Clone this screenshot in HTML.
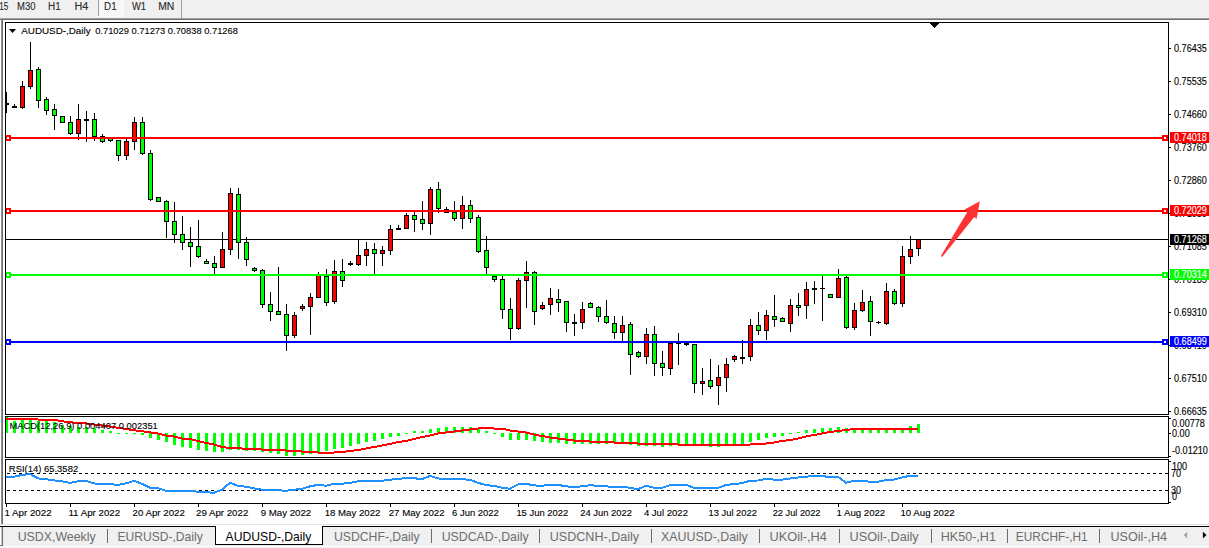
<!DOCTYPE html>
<html><head><meta charset="utf-8"><style>
html,body{margin:0;padding:0;background:#fff;width:1209px;height:548px;overflow:hidden;}
svg{display:block;font-family:"Liberation Sans", sans-serif;}
</style></head><body><svg width="1209" height="548" viewBox="0 0 1209 548"><rect x="0" y="0" width="1209" height="548" fill="#ffffff"/><rect x="0" y="0" width="1209" height="18" fill="#f0f0f0"/><rect x="0" y="18" width="1209" height="1" fill="#a0a0a0"/><rect x="0" y="19" width="1209" height="1" fill="#6e6e6e"/><defs><pattern id="chk" width="2" height="2" patternUnits="userSpaceOnUse"><rect width="2" height="2" fill="#f0f0f0"/><rect width="1" height="1" fill="#ffffff"/><rect x="1" y="1" width="1" height="1" fill="#ffffff"/></pattern></defs><rect x="99" y="0" width="24" height="16" fill="url(#chk)"/><rect x="123" y="0" width="1" height="17" fill="#fafafa"/><rect x="98" y="16" width="26" height="1" fill="#fafafa"/><rect x="98" y="0" width="1" height="16" fill="#a0a0a0"/><rect x="181" y="0" width="1" height="18" fill="#a0a0a0"/><rect x="1" y="19" width="1" height="506" fill="#909090"/><rect x="2" y="19" width="1" height="506" fill="#6e6e6e"/><defs><clipPath id="cm"><rect x="6" y="23" width="1162" height="391"/></clipPath></defs><g shape-rendering="crispEdges" clip-path="url(#cm)"><rect x="6" y="239" width="1162" height="1" fill="#000"/><rect x="6" y="92" width="1" height="21" fill="#000"/><rect x="4" y="103" width="5" height="2" fill="#000"/><rect x="14" y="104" width="1" height="4" fill="#000"/><rect x="12" y="106" width="5" height="2" fill="#000"/><rect x="22" y="81" width="1" height="28" fill="#000"/><rect x="20" y="86" width="5" height="22" fill="#000"/><rect x="21" y="87" width="3" height="20" fill="#ff0000"/><rect x="30" y="42" width="1" height="47" fill="#000"/><rect x="28" y="70" width="5" height="17" fill="#000"/><rect x="29" y="71" width="3" height="15" fill="#ff0000"/><rect x="38" y="67" width="1" height="41" fill="#000"/><rect x="36" y="69" width="5" height="32" fill="#000"/><rect x="37" y="70" width="3" height="30" fill="#00ff00"/><rect x="46" y="97" width="1" height="18" fill="#000"/><rect x="44" y="99" width="5" height="12" fill="#000"/><rect x="45" y="100" width="3" height="10" fill="#00ff00"/><rect x="54" y="104" width="1" height="26" fill="#000"/><rect x="52" y="109" width="5" height="7" fill="#000"/><rect x="53" y="110" width="3" height="5" fill="#00ff00"/><rect x="62" y="116" width="1" height="7" fill="#000"/><rect x="60" y="116" width="5" height="7" fill="#000"/><rect x="61" y="117" width="3" height="5" fill="#00ff00"/><rect x="70" y="116" width="1" height="19" fill="#000"/><rect x="68" y="122" width="5" height="12" fill="#000"/><rect x="69" y="123" width="3" height="10" fill="#00ff00"/><rect x="78" y="104" width="1" height="36" fill="#000"/><rect x="76" y="119" width="5" height="15" fill="#000"/><rect x="77" y="120" width="3" height="13" fill="#ff0000"/><rect x="86" y="111" width="1" height="31" fill="#000"/><rect x="84" y="119" width="5" height="2" fill="#000"/><rect x="94" y="113" width="1" height="28" fill="#000"/><rect x="92" y="119" width="5" height="18" fill="#000"/><rect x="93" y="120" width="3" height="16" fill="#00ff00"/><rect x="102" y="134" width="1" height="9" fill="#000"/><rect x="100" y="136" width="5" height="6" fill="#000"/><rect x="101" y="137" width="3" height="4" fill="#00ff00"/><rect x="110" y="138" width="1" height="4" fill="#000"/><rect x="108" y="138" width="5" height="3" fill="#000"/><rect x="109" y="139" width="3" height="1" fill="#00ff00"/><rect x="118" y="140" width="1" height="21" fill="#000"/><rect x="116" y="140" width="5" height="16" fill="#000"/><rect x="117" y="141" width="3" height="14" fill="#00ff00"/><rect x="126" y="139" width="1" height="21" fill="#000"/><rect x="124" y="141" width="5" height="15" fill="#000"/><rect x="125" y="142" width="3" height="13" fill="#ff0000"/><rect x="134" y="117" width="1" height="33" fill="#000"/><rect x="132" y="122" width="5" height="20" fill="#000"/><rect x="133" y="123" width="3" height="18" fill="#ff0000"/><rect x="142" y="117" width="1" height="38" fill="#000"/><rect x="140" y="122" width="5" height="32" fill="#000"/><rect x="141" y="123" width="3" height="30" fill="#00ff00"/><rect x="150" y="150" width="1" height="51" fill="#000"/><rect x="148" y="153" width="5" height="47" fill="#000"/><rect x="149" y="154" width="3" height="45" fill="#00ff00"/><rect x="158" y="197" width="1" height="5" fill="#000"/><rect x="156" y="197" width="5" height="5" fill="#000"/><rect x="157" y="198" width="3" height="3" fill="#00ff00"/><rect x="166" y="200" width="1" height="38" fill="#000"/><rect x="164" y="201" width="5" height="21" fill="#000"/><rect x="165" y="202" width="3" height="19" fill="#00ff00"/><rect x="174" y="202" width="1" height="41" fill="#000"/><rect x="172" y="221" width="5" height="14" fill="#000"/><rect x="173" y="222" width="3" height="12" fill="#00ff00"/><rect x="182" y="216" width="1" height="34" fill="#000"/><rect x="180" y="234" width="5" height="9" fill="#000"/><rect x="181" y="235" width="3" height="7" fill="#00ff00"/><rect x="190" y="227" width="1" height="40" fill="#000"/><rect x="188" y="242" width="5" height="5" fill="#000"/><rect x="189" y="243" width="3" height="3" fill="#00ff00"/><rect x="198" y="220" width="1" height="38" fill="#000"/><rect x="196" y="246" width="5" height="11" fill="#000"/><rect x="197" y="247" width="3" height="9" fill="#00ff00"/><rect x="206" y="259" width="1" height="5" fill="#000"/><rect x="204" y="261" width="5" height="3" fill="#000"/><rect x="205" y="262" width="3" height="1" fill="#00ff00"/><rect x="214" y="256" width="1" height="18" fill="#000"/><rect x="212" y="263" width="5" height="5" fill="#000"/><rect x="213" y="264" width="3" height="3" fill="#00ff00"/><rect x="222" y="232" width="1" height="36" fill="#000"/><rect x="220" y="249" width="5" height="19" fill="#000"/><rect x="221" y="250" width="3" height="17" fill="#ff0000"/><rect x="230" y="188" width="1" height="67" fill="#000"/><rect x="228" y="193" width="5" height="57" fill="#000"/><rect x="229" y="194" width="3" height="55" fill="#ff0000"/><rect x="238" y="188" width="1" height="71" fill="#000"/><rect x="236" y="194" width="5" height="49" fill="#000"/><rect x="237" y="195" width="3" height="47" fill="#00ff00"/><rect x="246" y="237" width="1" height="29" fill="#000"/><rect x="244" y="242" width="5" height="18" fill="#000"/><rect x="245" y="243" width="3" height="16" fill="#00ff00"/><rect x="254" y="267" width="1" height="5" fill="#000"/><rect x="252" y="268" width="5" height="3" fill="#000"/><rect x="253" y="269" width="3" height="1" fill="#00ff00"/><rect x="262" y="269" width="1" height="39" fill="#000"/><rect x="260" y="270" width="5" height="35" fill="#000"/><rect x="261" y="271" width="3" height="33" fill="#00ff00"/><rect x="270" y="292" width="1" height="29" fill="#000"/><rect x="268" y="304" width="5" height="8" fill="#000"/><rect x="269" y="305" width="3" height="6" fill="#00ff00"/><rect x="278" y="267" width="1" height="48" fill="#000"/><rect x="276" y="311" width="5" height="4" fill="#000"/><rect x="277" y="312" width="3" height="2" fill="#00ff00"/><rect x="286" y="304" width="1" height="47" fill="#000"/><rect x="284" y="314" width="5" height="22" fill="#000"/><rect x="285" y="315" width="3" height="20" fill="#00ff00"/><rect x="294" y="312" width="1" height="26" fill="#000"/><rect x="292" y="315" width="5" height="21" fill="#000"/><rect x="293" y="316" width="3" height="19" fill="#ff0000"/><rect x="302" y="304" width="1" height="7" fill="#000"/><rect x="300" y="306" width="5" height="3" fill="#000"/><rect x="301" y="307" width="3" height="1" fill="#ff0000"/><rect x="310" y="293" width="1" height="42" fill="#000"/><rect x="308" y="297" width="5" height="10" fill="#000"/><rect x="309" y="298" width="3" height="8" fill="#ff0000"/><rect x="318" y="272" width="1" height="26" fill="#000"/><rect x="316" y="275" width="5" height="23" fill="#000"/><rect x="317" y="276" width="3" height="21" fill="#ff0000"/><rect x="326" y="269" width="1" height="37" fill="#000"/><rect x="324" y="276" width="5" height="27" fill="#000"/><rect x="325" y="277" width="3" height="25" fill="#00ff00"/><rect x="334" y="260" width="1" height="44" fill="#000"/><rect x="332" y="271" width="5" height="31" fill="#000"/><rect x="333" y="272" width="3" height="29" fill="#ff0000"/><rect x="342" y="259" width="1" height="28" fill="#000"/><rect x="340" y="271" width="5" height="10" fill="#000"/><rect x="341" y="272" width="3" height="8" fill="#00ff00"/><rect x="350" y="261" width="1" height="5" fill="#000"/><rect x="348" y="263" width="5" height="2" fill="#000"/><rect x="358" y="239" width="1" height="27" fill="#000"/><rect x="356" y="255" width="5" height="10" fill="#000"/><rect x="357" y="256" width="3" height="8" fill="#ff0000"/><rect x="366" y="242" width="1" height="24" fill="#000"/><rect x="364" y="249" width="5" height="7" fill="#000"/><rect x="365" y="250" width="3" height="5" fill="#ff0000"/><rect x="374" y="243" width="1" height="31" fill="#000"/><rect x="372" y="249" width="5" height="5" fill="#000"/><rect x="373" y="250" width="3" height="3" fill="#00ff00"/><rect x="382" y="246" width="1" height="20" fill="#000"/><rect x="380" y="250" width="5" height="4" fill="#000"/><rect x="381" y="251" width="3" height="2" fill="#ff0000"/><rect x="390" y="225" width="1" height="30" fill="#000"/><rect x="388" y="229" width="5" height="22" fill="#000"/><rect x="389" y="230" width="3" height="20" fill="#ff0000"/><rect x="398" y="225" width="1" height="5" fill="#000"/><rect x="396" y="228" width="5" height="2" fill="#000"/><rect x="406" y="213" width="1" height="16" fill="#000"/><rect x="404" y="215" width="5" height="14" fill="#000"/><rect x="405" y="216" width="3" height="12" fill="#ff0000"/><rect x="414" y="212" width="1" height="20" fill="#000"/><rect x="412" y="215" width="5" height="5" fill="#000"/><rect x="413" y="216" width="3" height="3" fill="#00ff00"/><rect x="422" y="201" width="1" height="29" fill="#000"/><rect x="420" y="219" width="5" height="5" fill="#000"/><rect x="421" y="220" width="3" height="3" fill="#00ff00"/><rect x="430" y="187" width="1" height="48" fill="#000"/><rect x="428" y="189" width="5" height="35" fill="#000"/><rect x="429" y="190" width="3" height="33" fill="#ff0000"/><rect x="438" y="182" width="1" height="31" fill="#000"/><rect x="436" y="189" width="5" height="20" fill="#000"/><rect x="437" y="190" width="3" height="18" fill="#00ff00"/><rect x="446" y="207" width="1" height="6" fill="#000"/><rect x="444" y="209" width="5" height="4" fill="#000"/><rect x="445" y="210" width="3" height="2" fill="#00ff00"/><rect x="454" y="201" width="1" height="20" fill="#000"/><rect x="452" y="212" width="5" height="7" fill="#000"/><rect x="453" y="213" width="3" height="5" fill="#00ff00"/><rect x="462" y="196" width="1" height="33" fill="#000"/><rect x="460" y="205" width="5" height="14" fill="#000"/><rect x="461" y="206" width="3" height="12" fill="#ff0000"/><rect x="470" y="200" width="1" height="23" fill="#000"/><rect x="468" y="205" width="5" height="14" fill="#000"/><rect x="469" y="206" width="3" height="12" fill="#00ff00"/><rect x="478" y="215" width="1" height="38" fill="#000"/><rect x="476" y="217" width="5" height="35" fill="#000"/><rect x="477" y="218" width="3" height="33" fill="#00ff00"/><rect x="486" y="236" width="1" height="38" fill="#000"/><rect x="484" y="250" width="5" height="18" fill="#000"/><rect x="485" y="251" width="3" height="16" fill="#00ff00"/><rect x="494" y="275" width="1" height="7" fill="#000"/><rect x="492" y="276" width="5" height="4" fill="#000"/><rect x="493" y="277" width="3" height="2" fill="#00ff00"/><rect x="502" y="276" width="1" height="43" fill="#000"/><rect x="500" y="279" width="5" height="31" fill="#000"/><rect x="501" y="280" width="3" height="29" fill="#00ff00"/><rect x="510" y="298" width="1" height="42" fill="#000"/><rect x="508" y="309" width="5" height="20" fill="#000"/><rect x="509" y="310" width="3" height="18" fill="#00ff00"/><rect x="518" y="278" width="1" height="52" fill="#000"/><rect x="516" y="280" width="5" height="49" fill="#000"/><rect x="517" y="281" width="3" height="47" fill="#ff0000"/><rect x="526" y="261" width="1" height="47" fill="#000"/><rect x="524" y="272" width="5" height="9" fill="#000"/><rect x="525" y="273" width="3" height="7" fill="#ff0000"/><rect x="534" y="271" width="1" height="54" fill="#000"/><rect x="532" y="272" width="5" height="40" fill="#000"/><rect x="533" y="273" width="3" height="38" fill="#00ff00"/><rect x="542" y="302" width="1" height="8" fill="#000"/><rect x="540" y="305" width="5" height="4" fill="#000"/><rect x="541" y="306" width="3" height="2" fill="#ff0000"/><rect x="550" y="288" width="1" height="27" fill="#000"/><rect x="548" y="298" width="5" height="7" fill="#000"/><rect x="549" y="299" width="3" height="5" fill="#ff0000"/><rect x="558" y="289" width="1" height="23" fill="#000"/><rect x="556" y="299" width="5" height="4" fill="#000"/><rect x="557" y="300" width="3" height="2" fill="#00ff00"/><rect x="566" y="301" width="1" height="31" fill="#000"/><rect x="564" y="301" width="5" height="22" fill="#000"/><rect x="565" y="302" width="3" height="20" fill="#00ff00"/><rect x="574" y="314" width="1" height="22" fill="#000"/><rect x="572" y="322" width="5" height="2" fill="#000"/><rect x="582" y="302" width="1" height="27" fill="#000"/><rect x="580" y="309" width="5" height="14" fill="#000"/><rect x="581" y="310" width="3" height="12" fill="#ff0000"/><rect x="590" y="302" width="1" height="6" fill="#000"/><rect x="588" y="303" width="5" height="5" fill="#000"/><rect x="589" y="304" width="3" height="3" fill="#00ff00"/><rect x="598" y="306" width="1" height="16" fill="#000"/><rect x="596" y="307" width="5" height="10" fill="#000"/><rect x="597" y="308" width="3" height="8" fill="#00ff00"/><rect x="606" y="300" width="1" height="24" fill="#000"/><rect x="604" y="316" width="5" height="7" fill="#000"/><rect x="605" y="317" width="3" height="5" fill="#00ff00"/><rect x="614" y="316" width="1" height="23" fill="#000"/><rect x="612" y="323" width="5" height="10" fill="#000"/><rect x="613" y="324" width="3" height="8" fill="#00ff00"/><rect x="622" y="316" width="1" height="25" fill="#000"/><rect x="620" y="325" width="5" height="8" fill="#000"/><rect x="621" y="326" width="3" height="6" fill="#ff0000"/><rect x="630" y="322" width="1" height="53" fill="#000"/><rect x="628" y="324" width="5" height="31" fill="#000"/><rect x="629" y="325" width="3" height="29" fill="#00ff00"/><rect x="638" y="351" width="1" height="7" fill="#000"/><rect x="636" y="352" width="5" height="5" fill="#000"/><rect x="637" y="353" width="3" height="3" fill="#00ff00"/><rect x="646" y="328" width="1" height="36" fill="#000"/><rect x="644" y="334" width="5" height="23" fill="#000"/><rect x="645" y="335" width="3" height="21" fill="#ff0000"/><rect x="654" y="326" width="1" height="50" fill="#000"/><rect x="652" y="334" width="5" height="30" fill="#000"/><rect x="653" y="335" width="3" height="28" fill="#00ff00"/><rect x="662" y="351" width="1" height="25" fill="#000"/><rect x="660" y="363" width="5" height="5" fill="#000"/><rect x="661" y="364" width="3" height="3" fill="#00ff00"/><rect x="670" y="342" width="1" height="33" fill="#000"/><rect x="668" y="343" width="5" height="26" fill="#000"/><rect x="669" y="344" width="3" height="24" fill="#ff0000"/><rect x="678" y="333" width="1" height="32" fill="#000"/><rect x="676" y="343" width="5" height="1" fill="#000"/><rect x="686" y="343" width="1" height="3" fill="#000"/><rect x="684" y="343" width="5" height="2" fill="#000"/><rect x="694" y="344" width="1" height="49" fill="#000"/><rect x="692" y="344" width="5" height="40" fill="#000"/><rect x="693" y="345" width="3" height="38" fill="#00ff00"/><rect x="702" y="368" width="1" height="27" fill="#000"/><rect x="700" y="381" width="5" height="3" fill="#000"/><rect x="701" y="382" width="3" height="1" fill="#ff0000"/><rect x="710" y="359" width="1" height="30" fill="#000"/><rect x="708" y="380" width="5" height="7" fill="#000"/><rect x="709" y="381" width="3" height="5" fill="#00ff00"/><rect x="718" y="365" width="1" height="40" fill="#000"/><rect x="716" y="377" width="5" height="9" fill="#000"/><rect x="717" y="378" width="3" height="7" fill="#ff0000"/><rect x="726" y="358" width="1" height="34" fill="#000"/><rect x="724" y="364" width="5" height="14" fill="#000"/><rect x="725" y="365" width="3" height="12" fill="#ff0000"/><rect x="734" y="355" width="1" height="7" fill="#000"/><rect x="732" y="356" width="5" height="4" fill="#000"/><rect x="733" y="357" width="3" height="2" fill="#ff0000"/><rect x="742" y="340" width="1" height="24" fill="#000"/><rect x="740" y="357" width="5" height="2" fill="#000"/><rect x="750" y="319" width="1" height="42" fill="#000"/><rect x="748" y="325" width="5" height="32" fill="#000"/><rect x="749" y="326" width="3" height="30" fill="#ff0000"/><rect x="758" y="312" width="1" height="23" fill="#000"/><rect x="756" y="325" width="5" height="6" fill="#000"/><rect x="757" y="326" width="3" height="4" fill="#00ff00"/><rect x="766" y="310" width="1" height="30" fill="#000"/><rect x="764" y="315" width="5" height="16" fill="#000"/><rect x="765" y="316" width="3" height="14" fill="#ff0000"/><rect x="774" y="295" width="1" height="32" fill="#000"/><rect x="772" y="316" width="5" height="4" fill="#000"/><rect x="773" y="317" width="3" height="2" fill="#00ff00"/><rect x="782" y="317" width="1" height="5" fill="#000"/><rect x="780" y="318" width="5" height="4" fill="#000"/><rect x="781" y="319" width="3" height="2" fill="#00ff00"/><rect x="790" y="299" width="1" height="33" fill="#000"/><rect x="788" y="305" width="5" height="19" fill="#000"/><rect x="789" y="306" width="3" height="17" fill="#ff0000"/><rect x="798" y="293" width="1" height="23" fill="#000"/><rect x="796" y="305" width="5" height="3" fill="#000"/><rect x="797" y="306" width="3" height="1" fill="#00ff00"/><rect x="806" y="282" width="1" height="37" fill="#000"/><rect x="804" y="289" width="5" height="17" fill="#000"/><rect x="805" y="290" width="3" height="15" fill="#ff0000"/><rect x="814" y="281" width="1" height="23" fill="#000"/><rect x="812" y="288" width="5" height="2" fill="#000"/><rect x="822" y="275" width="1" height="46" fill="#000"/><rect x="820" y="288" width="5" height="1" fill="#000"/><rect x="830" y="294" width="1" height="4" fill="#000"/><rect x="828" y="294" width="5" height="4" fill="#000"/><rect x="829" y="295" width="3" height="2" fill="#00ff00"/><rect x="838" y="269" width="1" height="29" fill="#000"/><rect x="836" y="278" width="5" height="20" fill="#000"/><rect x="837" y="279" width="3" height="18" fill="#ff0000"/><rect x="846" y="276" width="1" height="53" fill="#000"/><rect x="844" y="277" width="5" height="51" fill="#000"/><rect x="845" y="278" width="3" height="49" fill="#00ff00"/><rect x="854" y="303" width="1" height="27" fill="#000"/><rect x="852" y="310" width="5" height="18" fill="#000"/><rect x="853" y="311" width="3" height="16" fill="#ff0000"/><rect x="862" y="290" width="1" height="22" fill="#000"/><rect x="860" y="302" width="5" height="9" fill="#000"/><rect x="861" y="303" width="3" height="7" fill="#ff0000"/><rect x="870" y="296" width="1" height="40" fill="#000"/><rect x="868" y="301" width="5" height="21" fill="#000"/><rect x="869" y="302" width="3" height="19" fill="#00ff00"/><rect x="878" y="321" width="1" height="3" fill="#000"/><rect x="876" y="322" width="5" height="1" fill="#000"/><rect x="886" y="283" width="1" height="42" fill="#000"/><rect x="884" y="291" width="5" height="33" fill="#000"/><rect x="885" y="292" width="3" height="31" fill="#ff0000"/><rect x="894" y="289" width="1" height="16" fill="#000"/><rect x="892" y="291" width="5" height="13" fill="#000"/><rect x="893" y="292" width="3" height="11" fill="#00ff00"/><rect x="902" y="246" width="1" height="61" fill="#000"/><rect x="900" y="256" width="5" height="48" fill="#000"/><rect x="901" y="257" width="3" height="46" fill="#ff0000"/><rect x="910" y="236" width="1" height="28" fill="#000"/><rect x="908" y="249" width="5" height="8" fill="#000"/><rect x="909" y="250" width="3" height="6" fill="#ff0000"/><rect x="918" y="239" width="1" height="17" fill="#000"/><rect x="916" y="239" width="5" height="10" fill="#000"/><rect x="917" y="240" width="3" height="8" fill="#ff0000"/></g><g shape-rendering="crispEdges"><rect x="6" y="417" width="2" height="16" fill="#00ff00"/><rect x="13" y="421" width="3" height="12" fill="#00ff00"/><rect x="21" y="419" width="3" height="14" fill="#00ff00"/><rect x="29" y="419" width="3" height="14" fill="#00ff00"/><rect x="37" y="421" width="3" height="12" fill="#00ff00"/><rect x="45" y="421" width="3" height="12" fill="#00ff00"/><rect x="53" y="422" width="3" height="11" fill="#00ff00"/><rect x="61" y="425" width="3" height="8" fill="#00ff00"/><rect x="69" y="426" width="3" height="7" fill="#00ff00"/><rect x="77" y="427" width="3" height="6" fill="#00ff00"/><rect x="85" y="427" width="3" height="6" fill="#00ff00"/><rect x="93" y="428" width="3" height="5" fill="#00ff00"/><rect x="101" y="430" width="3" height="3" fill="#00ff00"/><rect x="109" y="431" width="3" height="2" fill="#00ff00"/><rect x="117" y="433" width="3" height="1" fill="#00ff00"/><rect x="125" y="433" width="3" height="1" fill="#00ff00"/><rect x="133" y="433" width="3" height="1" fill="#00ff00"/><rect x="141" y="433" width="3" height="2" fill="#00ff00"/><rect x="149" y="433" width="3" height="5" fill="#00ff00"/><rect x="157" y="433" width="3" height="7" fill="#00ff00"/><rect x="165" y="433" width="3" height="9" fill="#00ff00"/><rect x="173" y="433" width="3" height="12" fill="#00ff00"/><rect x="181" y="433" width="3" height="14" fill="#00ff00"/><rect x="189" y="433" width="3" height="15" fill="#00ff00"/><rect x="197" y="433" width="3" height="17" fill="#00ff00"/><rect x="205" y="433" width="3" height="18" fill="#00ff00"/><rect x="213" y="433" width="3" height="19" fill="#00ff00"/><rect x="221" y="433" width="3" height="19" fill="#00ff00"/><rect x="229" y="433" width="3" height="17" fill="#00ff00"/><rect x="237" y="433" width="3" height="17" fill="#00ff00"/><rect x="245" y="433" width="3" height="18" fill="#00ff00"/><rect x="253" y="433" width="3" height="18" fill="#00ff00"/><rect x="261" y="433" width="3" height="19" fill="#00ff00"/><rect x="269" y="433" width="3" height="20" fill="#00ff00"/><rect x="277" y="433" width="3" height="21" fill="#00ff00"/><rect x="285" y="433" width="3" height="23" fill="#00ff00"/><rect x="293" y="433" width="3" height="23" fill="#00ff00"/><rect x="301" y="433" width="3" height="22" fill="#00ff00"/><rect x="309" y="433" width="3" height="21" fill="#00ff00"/><rect x="317" y="433" width="3" height="19" fill="#00ff00"/><rect x="325" y="433" width="3" height="18" fill="#00ff00"/><rect x="333" y="433" width="3" height="16" fill="#00ff00"/><rect x="341" y="433" width="3" height="15" fill="#00ff00"/><rect x="349" y="433" width="3" height="13" fill="#00ff00"/><rect x="357" y="433" width="3" height="11" fill="#00ff00"/><rect x="365" y="433" width="3" height="9" fill="#00ff00"/><rect x="373" y="433" width="3" height="8" fill="#00ff00"/><rect x="381" y="433" width="3" height="6" fill="#00ff00"/><rect x="389" y="433" width="3" height="4" fill="#00ff00"/><rect x="397" y="433" width="3" height="3" fill="#00ff00"/><rect x="405" y="433" width="3" height="1" fill="#00ff00"/><rect x="413" y="431" width="3" height="2" fill="#00ff00"/><rect x="421" y="431" width="3" height="2" fill="#00ff00"/><rect x="429" y="429" width="3" height="4" fill="#00ff00"/><rect x="437" y="428" width="3" height="5" fill="#00ff00"/><rect x="445" y="427" width="3" height="6" fill="#00ff00"/><rect x="453" y="427" width="3" height="6" fill="#00ff00"/><rect x="461" y="427" width="3" height="6" fill="#00ff00"/><rect x="469" y="427" width="3" height="6" fill="#00ff00"/><rect x="477" y="429" width="3" height="4" fill="#00ff00"/><rect x="485" y="431" width="3" height="2" fill="#00ff00"/><rect x="493" y="433" width="3" height="1" fill="#00ff00"/><rect x="501" y="433" width="3" height="4" fill="#00ff00"/><rect x="509" y="433" width="3" height="7" fill="#00ff00"/><rect x="517" y="433" width="3" height="7" fill="#00ff00"/><rect x="525" y="433" width="3" height="7" fill="#00ff00"/><rect x="533" y="433" width="3" height="8" fill="#00ff00"/><rect x="541" y="433" width="3" height="9" fill="#00ff00"/><rect x="549" y="433" width="3" height="10" fill="#00ff00"/><rect x="557" y="433" width="3" height="10" fill="#00ff00"/><rect x="565" y="433" width="3" height="11" fill="#00ff00"/><rect x="573" y="433" width="3" height="11" fill="#00ff00"/><rect x="581" y="433" width="3" height="11" fill="#00ff00"/><rect x="589" y="433" width="3" height="11" fill="#00ff00"/><rect x="597" y="433" width="3" height="11" fill="#00ff00"/><rect x="605" y="433" width="3" height="11" fill="#00ff00"/><rect x="613" y="433" width="3" height="10" fill="#00ff00"/><rect x="621" y="433" width="3" height="10" fill="#00ff00"/><rect x="629" y="433" width="3" height="12" fill="#00ff00"/><rect x="637" y="433" width="3" height="13" fill="#00ff00"/><rect x="645" y="433" width="3" height="13" fill="#00ff00"/><rect x="653" y="433" width="3" height="13" fill="#00ff00"/><rect x="661" y="433" width="3" height="14" fill="#00ff00"/><rect x="669" y="433" width="3" height="13" fill="#00ff00"/><rect x="677" y="433" width="3" height="12" fill="#00ff00"/><rect x="685" y="433" width="3" height="12" fill="#00ff00"/><rect x="693" y="433" width="3" height="12" fill="#00ff00"/><rect x="701" y="433" width="3" height="12" fill="#00ff00"/><rect x="709" y="433" width="3" height="14" fill="#00ff00"/><rect x="717" y="433" width="3" height="14" fill="#00ff00"/><rect x="725" y="433" width="3" height="12" fill="#00ff00"/><rect x="733" y="433" width="3" height="11" fill="#00ff00"/><rect x="741" y="433" width="3" height="11" fill="#00ff00"/><rect x="749" y="433" width="3" height="9" fill="#00ff00"/><rect x="757" y="433" width="3" height="7" fill="#00ff00"/><rect x="765" y="433" width="3" height="5" fill="#00ff00"/><rect x="773" y="433" width="3" height="4" fill="#00ff00"/><rect x="781" y="433" width="3" height="3" fill="#00ff00"/><rect x="789" y="433" width="3" height="1" fill="#00ff00"/><rect x="797" y="432" width="3" height="1" fill="#00ff00"/><rect x="805" y="430" width="3" height="3" fill="#00ff00"/><rect x="813" y="429" width="3" height="4" fill="#00ff00"/><rect x="821" y="428" width="3" height="5" fill="#00ff00"/><rect x="829" y="428" width="3" height="5" fill="#00ff00"/><rect x="837" y="427" width="3" height="6" fill="#00ff00"/><rect x="845" y="428" width="3" height="5" fill="#00ff00"/><rect x="853" y="429" width="3" height="4" fill="#00ff00"/><rect x="861" y="430" width="3" height="3" fill="#00ff00"/><rect x="869" y="430" width="3" height="3" fill="#00ff00"/><rect x="877" y="430" width="3" height="3" fill="#00ff00"/><rect x="885" y="430" width="3" height="3" fill="#00ff00"/><rect x="893" y="430" width="3" height="3" fill="#00ff00"/><rect x="901" y="430" width="3" height="3" fill="#00ff00"/><rect x="909" y="426" width="3" height="7" fill="#00ff00"/><rect x="917" y="424" width="3" height="9" fill="#00ff00"/></g><polyline points="6,418.5 14,418.5 22,418.5 30,418.5 38,419.5 46,419.5 54,419.8 62,421.3 70,422.3 78,422.8 86,423.3 94,424.5 102,425.5 110,426.5 118,427.8 126,429 134,430.3 142,431.3 150,432.3 158,433.5 166,435.5 174,436.5 182,438.5 190,439.0 198,441.0 206,443.0 214,444.5 222,447.0 230,448.0 238,448.0 246,449.0 254,449.0 262,449.5 270,449.5 278,450.0 286,450.5 294,451.0 302,451.5 310,452.0 318,452.5 326,452.5 334,452.5 342,452.0 350,451.0 358,450.0 366,448.5 374,447.0 382,445.5 390,444.0 398,442.0 406,441.0 414,439.0 422,437.0 430,435.5 438,433.5 446,432.5 454,431.5 462,430.5 470,429.5 478,428.5 486,427.5 494,428.5 502,428.5 510,430.5 518,431.5 526,432.5 534,434.5 542,436.0 550,437.5 558,438.5 566,439.5 574,440.5 582,441.0 590,441.5 598,441.5 606,442.0 614,442.5 622,442.5 630,442.5 638,443.5 646,443.5 654,443.5 662,443.5 670,443.5 678,444.5 686,444.5 694,444.5 702,444.5 710,444.5 718,444.5 726,444.5 734,444.5 742,444.5 750,444.5 758,444.0 766,443.5 774,442.5 782,441.0 790,440.0 798,438.5 806,436.5 814,435.0 822,433.5 830,432.0 838,431.0 846,430.0 854,429.0 862,428.5 918,428.5" fill="none" stroke="#ff0000" stroke-width="2" shape-rendering="crispEdges"/><g shape-rendering="crispEdges"><rect x="7" y="473" width="3" height="1" fill="#000"/><rect x="13" y="473" width="3" height="1" fill="#000"/><rect x="19" y="473" width="3" height="1" fill="#000"/><rect x="25" y="473" width="3" height="1" fill="#000"/><rect x="31" y="473" width="3" height="1" fill="#000"/><rect x="37" y="473" width="3" height="1" fill="#000"/><rect x="43" y="473" width="3" height="1" fill="#000"/><rect x="49" y="473" width="3" height="1" fill="#000"/><rect x="55" y="473" width="3" height="1" fill="#000"/><rect x="61" y="473" width="3" height="1" fill="#000"/><rect x="67" y="473" width="3" height="1" fill="#000"/><rect x="73" y="473" width="3" height="1" fill="#000"/><rect x="79" y="473" width="3" height="1" fill="#000"/><rect x="85" y="473" width="3" height="1" fill="#000"/><rect x="91" y="473" width="3" height="1" fill="#000"/><rect x="97" y="473" width="3" height="1" fill="#000"/><rect x="103" y="473" width="3" height="1" fill="#000"/><rect x="109" y="473" width="3" height="1" fill="#000"/><rect x="115" y="473" width="3" height="1" fill="#000"/><rect x="121" y="473" width="3" height="1" fill="#000"/><rect x="127" y="473" width="3" height="1" fill="#000"/><rect x="133" y="473" width="3" height="1" fill="#000"/><rect x="139" y="473" width="3" height="1" fill="#000"/><rect x="145" y="473" width="3" height="1" fill="#000"/><rect x="151" y="473" width="3" height="1" fill="#000"/><rect x="157" y="473" width="3" height="1" fill="#000"/><rect x="163" y="473" width="3" height="1" fill="#000"/><rect x="169" y="473" width="3" height="1" fill="#000"/><rect x="175" y="473" width="3" height="1" fill="#000"/><rect x="181" y="473" width="3" height="1" fill="#000"/><rect x="187" y="473" width="3" height="1" fill="#000"/><rect x="193" y="473" width="3" height="1" fill="#000"/><rect x="199" y="473" width="3" height="1" fill="#000"/><rect x="205" y="473" width="3" height="1" fill="#000"/><rect x="211" y="473" width="3" height="1" fill="#000"/><rect x="217" y="473" width="3" height="1" fill="#000"/><rect x="223" y="473" width="3" height="1" fill="#000"/><rect x="229" y="473" width="3" height="1" fill="#000"/><rect x="235" y="473" width="3" height="1" fill="#000"/><rect x="241" y="473" width="3" height="1" fill="#000"/><rect x="247" y="473" width="3" height="1" fill="#000"/><rect x="253" y="473" width="3" height="1" fill="#000"/><rect x="259" y="473" width="3" height="1" fill="#000"/><rect x="265" y="473" width="3" height="1" fill="#000"/><rect x="271" y="473" width="3" height="1" fill="#000"/><rect x="277" y="473" width="3" height="1" fill="#000"/><rect x="283" y="473" width="3" height="1" fill="#000"/><rect x="289" y="473" width="3" height="1" fill="#000"/><rect x="295" y="473" width="3" height="1" fill="#000"/><rect x="301" y="473" width="3" height="1" fill="#000"/><rect x="307" y="473" width="3" height="1" fill="#000"/><rect x="313" y="473" width="3" height="1" fill="#000"/><rect x="319" y="473" width="3" height="1" fill="#000"/><rect x="325" y="473" width="3" height="1" fill="#000"/><rect x="331" y="473" width="3" height="1" fill="#000"/><rect x="337" y="473" width="3" height="1" fill="#000"/><rect x="343" y="473" width="3" height="1" fill="#000"/><rect x="349" y="473" width="3" height="1" fill="#000"/><rect x="355" y="473" width="3" height="1" fill="#000"/><rect x="361" y="473" width="3" height="1" fill="#000"/><rect x="367" y="473" width="3" height="1" fill="#000"/><rect x="373" y="473" width="3" height="1" fill="#000"/><rect x="379" y="473" width="3" height="1" fill="#000"/><rect x="385" y="473" width="3" height="1" fill="#000"/><rect x="391" y="473" width="3" height="1" fill="#000"/><rect x="397" y="473" width="3" height="1" fill="#000"/><rect x="403" y="473" width="3" height="1" fill="#000"/><rect x="409" y="473" width="3" height="1" fill="#000"/><rect x="415" y="473" width="3" height="1" fill="#000"/><rect x="421" y="473" width="3" height="1" fill="#000"/><rect x="427" y="473" width="3" height="1" fill="#000"/><rect x="433" y="473" width="3" height="1" fill="#000"/><rect x="439" y="473" width="3" height="1" fill="#000"/><rect x="445" y="473" width="3" height="1" fill="#000"/><rect x="451" y="473" width="3" height="1" fill="#000"/><rect x="457" y="473" width="3" height="1" fill="#000"/><rect x="463" y="473" width="3" height="1" fill="#000"/><rect x="469" y="473" width="3" height="1" fill="#000"/><rect x="475" y="473" width="3" height="1" fill="#000"/><rect x="481" y="473" width="3" height="1" fill="#000"/><rect x="487" y="473" width="3" height="1" fill="#000"/><rect x="493" y="473" width="3" height="1" fill="#000"/><rect x="499" y="473" width="3" height="1" fill="#000"/><rect x="505" y="473" width="3" height="1" fill="#000"/><rect x="511" y="473" width="3" height="1" fill="#000"/><rect x="517" y="473" width="3" height="1" fill="#000"/><rect x="523" y="473" width="3" height="1" fill="#000"/><rect x="529" y="473" width="3" height="1" fill="#000"/><rect x="535" y="473" width="3" height="1" fill="#000"/><rect x="541" y="473" width="3" height="1" fill="#000"/><rect x="547" y="473" width="3" height="1" fill="#000"/><rect x="553" y="473" width="3" height="1" fill="#000"/><rect x="559" y="473" width="3" height="1" fill="#000"/><rect x="565" y="473" width="3" height="1" fill="#000"/><rect x="571" y="473" width="3" height="1" fill="#000"/><rect x="577" y="473" width="3" height="1" fill="#000"/><rect x="583" y="473" width="3" height="1" fill="#000"/><rect x="589" y="473" width="3" height="1" fill="#000"/><rect x="595" y="473" width="3" height="1" fill="#000"/><rect x="601" y="473" width="3" height="1" fill="#000"/><rect x="607" y="473" width="3" height="1" fill="#000"/><rect x="613" y="473" width="3" height="1" fill="#000"/><rect x="619" y="473" width="3" height="1" fill="#000"/><rect x="625" y="473" width="3" height="1" fill="#000"/><rect x="631" y="473" width="3" height="1" fill="#000"/><rect x="637" y="473" width="3" height="1" fill="#000"/><rect x="643" y="473" width="3" height="1" fill="#000"/><rect x="649" y="473" width="3" height="1" fill="#000"/><rect x="655" y="473" width="3" height="1" fill="#000"/><rect x="661" y="473" width="3" height="1" fill="#000"/><rect x="667" y="473" width="3" height="1" fill="#000"/><rect x="673" y="473" width="3" height="1" fill="#000"/><rect x="679" y="473" width="3" height="1" fill="#000"/><rect x="685" y="473" width="3" height="1" fill="#000"/><rect x="691" y="473" width="3" height="1" fill="#000"/><rect x="697" y="473" width="3" height="1" fill="#000"/><rect x="703" y="473" width="3" height="1" fill="#000"/><rect x="709" y="473" width="3" height="1" fill="#000"/><rect x="715" y="473" width="3" height="1" fill="#000"/><rect x="721" y="473" width="3" height="1" fill="#000"/><rect x="727" y="473" width="3" height="1" fill="#000"/><rect x="733" y="473" width="3" height="1" fill="#000"/><rect x="739" y="473" width="3" height="1" fill="#000"/><rect x="745" y="473" width="3" height="1" fill="#000"/><rect x="751" y="473" width="3" height="1" fill="#000"/><rect x="757" y="473" width="3" height="1" fill="#000"/><rect x="763" y="473" width="3" height="1" fill="#000"/><rect x="769" y="473" width="3" height="1" fill="#000"/><rect x="775" y="473" width="3" height="1" fill="#000"/><rect x="781" y="473" width="3" height="1" fill="#000"/><rect x="787" y="473" width="3" height="1" fill="#000"/><rect x="793" y="473" width="3" height="1" fill="#000"/><rect x="799" y="473" width="3" height="1" fill="#000"/><rect x="805" y="473" width="3" height="1" fill="#000"/><rect x="811" y="473" width="3" height="1" fill="#000"/><rect x="817" y="473" width="3" height="1" fill="#000"/><rect x="823" y="473" width="3" height="1" fill="#000"/><rect x="829" y="473" width="3" height="1" fill="#000"/><rect x="835" y="473" width="3" height="1" fill="#000"/><rect x="841" y="473" width="3" height="1" fill="#000"/><rect x="847" y="473" width="3" height="1" fill="#000"/><rect x="853" y="473" width="3" height="1" fill="#000"/><rect x="859" y="473" width="3" height="1" fill="#000"/><rect x="865" y="473" width="3" height="1" fill="#000"/><rect x="871" y="473" width="3" height="1" fill="#000"/><rect x="877" y="473" width="3" height="1" fill="#000"/><rect x="883" y="473" width="3" height="1" fill="#000"/><rect x="889" y="473" width="3" height="1" fill="#000"/><rect x="895" y="473" width="3" height="1" fill="#000"/><rect x="901" y="473" width="3" height="1" fill="#000"/><rect x="907" y="473" width="3" height="1" fill="#000"/><rect x="913" y="473" width="3" height="1" fill="#000"/><rect x="919" y="473" width="3" height="1" fill="#000"/><rect x="925" y="473" width="3" height="1" fill="#000"/><rect x="931" y="473" width="3" height="1" fill="#000"/><rect x="937" y="473" width="3" height="1" fill="#000"/><rect x="943" y="473" width="3" height="1" fill="#000"/><rect x="949" y="473" width="3" height="1" fill="#000"/><rect x="955" y="473" width="3" height="1" fill="#000"/><rect x="961" y="473" width="3" height="1" fill="#000"/><rect x="967" y="473" width="3" height="1" fill="#000"/><rect x="973" y="473" width="3" height="1" fill="#000"/><rect x="979" y="473" width="3" height="1" fill="#000"/><rect x="985" y="473" width="3" height="1" fill="#000"/><rect x="991" y="473" width="3" height="1" fill="#000"/><rect x="997" y="473" width="3" height="1" fill="#000"/><rect x="1003" y="473" width="3" height="1" fill="#000"/><rect x="1009" y="473" width="3" height="1" fill="#000"/><rect x="1015" y="473" width="3" height="1" fill="#000"/><rect x="1021" y="473" width="3" height="1" fill="#000"/><rect x="1027" y="473" width="3" height="1" fill="#000"/><rect x="1033" y="473" width="3" height="1" fill="#000"/><rect x="1039" y="473" width="3" height="1" fill="#000"/><rect x="1045" y="473" width="3" height="1" fill="#000"/><rect x="1051" y="473" width="3" height="1" fill="#000"/><rect x="1057" y="473" width="3" height="1" fill="#000"/><rect x="1063" y="473" width="3" height="1" fill="#000"/><rect x="1069" y="473" width="3" height="1" fill="#000"/><rect x="1075" y="473" width="3" height="1" fill="#000"/><rect x="1081" y="473" width="3" height="1" fill="#000"/><rect x="1087" y="473" width="3" height="1" fill="#000"/><rect x="1093" y="473" width="3" height="1" fill="#000"/><rect x="1099" y="473" width="3" height="1" fill="#000"/><rect x="1105" y="473" width="3" height="1" fill="#000"/><rect x="1111" y="473" width="3" height="1" fill="#000"/><rect x="1117" y="473" width="3" height="1" fill="#000"/><rect x="1123" y="473" width="3" height="1" fill="#000"/><rect x="1129" y="473" width="3" height="1" fill="#000"/><rect x="1135" y="473" width="3" height="1" fill="#000"/><rect x="1141" y="473" width="3" height="1" fill="#000"/><rect x="1147" y="473" width="3" height="1" fill="#000"/><rect x="1153" y="473" width="3" height="1" fill="#000"/><rect x="1159" y="473" width="3" height="1" fill="#000"/><rect x="1165" y="473" width="3" height="1" fill="#000"/><rect x="7" y="490" width="3" height="1" fill="#000"/><rect x="13" y="490" width="3" height="1" fill="#000"/><rect x="19" y="490" width="3" height="1" fill="#000"/><rect x="25" y="490" width="3" height="1" fill="#000"/><rect x="31" y="490" width="3" height="1" fill="#000"/><rect x="37" y="490" width="3" height="1" fill="#000"/><rect x="43" y="490" width="3" height="1" fill="#000"/><rect x="49" y="490" width="3" height="1" fill="#000"/><rect x="55" y="490" width="3" height="1" fill="#000"/><rect x="61" y="490" width="3" height="1" fill="#000"/><rect x="67" y="490" width="3" height="1" fill="#000"/><rect x="73" y="490" width="3" height="1" fill="#000"/><rect x="79" y="490" width="3" height="1" fill="#000"/><rect x="85" y="490" width="3" height="1" fill="#000"/><rect x="91" y="490" width="3" height="1" fill="#000"/><rect x="97" y="490" width="3" height="1" fill="#000"/><rect x="103" y="490" width="3" height="1" fill="#000"/><rect x="109" y="490" width="3" height="1" fill="#000"/><rect x="115" y="490" width="3" height="1" fill="#000"/><rect x="121" y="490" width="3" height="1" fill="#000"/><rect x="127" y="490" width="3" height="1" fill="#000"/><rect x="133" y="490" width="3" height="1" fill="#000"/><rect x="139" y="490" width="3" height="1" fill="#000"/><rect x="145" y="490" width="3" height="1" fill="#000"/><rect x="151" y="490" width="3" height="1" fill="#000"/><rect x="157" y="490" width="3" height="1" fill="#000"/><rect x="163" y="490" width="3" height="1" fill="#000"/><rect x="169" y="490" width="3" height="1" fill="#000"/><rect x="175" y="490" width="3" height="1" fill="#000"/><rect x="181" y="490" width="3" height="1" fill="#000"/><rect x="187" y="490" width="3" height="1" fill="#000"/><rect x="193" y="490" width="3" height="1" fill="#000"/><rect x="199" y="490" width="3" height="1" fill="#000"/><rect x="205" y="490" width="3" height="1" fill="#000"/><rect x="211" y="490" width="3" height="1" fill="#000"/><rect x="217" y="490" width="3" height="1" fill="#000"/><rect x="223" y="490" width="3" height="1" fill="#000"/><rect x="229" y="490" width="3" height="1" fill="#000"/><rect x="235" y="490" width="3" height="1" fill="#000"/><rect x="241" y="490" width="3" height="1" fill="#000"/><rect x="247" y="490" width="3" height="1" fill="#000"/><rect x="253" y="490" width="3" height="1" fill="#000"/><rect x="259" y="490" width="3" height="1" fill="#000"/><rect x="265" y="490" width="3" height="1" fill="#000"/><rect x="271" y="490" width="3" height="1" fill="#000"/><rect x="277" y="490" width="3" height="1" fill="#000"/><rect x="283" y="490" width="3" height="1" fill="#000"/><rect x="289" y="490" width="3" height="1" fill="#000"/><rect x="295" y="490" width="3" height="1" fill="#000"/><rect x="301" y="490" width="3" height="1" fill="#000"/><rect x="307" y="490" width="3" height="1" fill="#000"/><rect x="313" y="490" width="3" height="1" fill="#000"/><rect x="319" y="490" width="3" height="1" fill="#000"/><rect x="325" y="490" width="3" height="1" fill="#000"/><rect x="331" y="490" width="3" height="1" fill="#000"/><rect x="337" y="490" width="3" height="1" fill="#000"/><rect x="343" y="490" width="3" height="1" fill="#000"/><rect x="349" y="490" width="3" height="1" fill="#000"/><rect x="355" y="490" width="3" height="1" fill="#000"/><rect x="361" y="490" width="3" height="1" fill="#000"/><rect x="367" y="490" width="3" height="1" fill="#000"/><rect x="373" y="490" width="3" height="1" fill="#000"/><rect x="379" y="490" width="3" height="1" fill="#000"/><rect x="385" y="490" width="3" height="1" fill="#000"/><rect x="391" y="490" width="3" height="1" fill="#000"/><rect x="397" y="490" width="3" height="1" fill="#000"/><rect x="403" y="490" width="3" height="1" fill="#000"/><rect x="409" y="490" width="3" height="1" fill="#000"/><rect x="415" y="490" width="3" height="1" fill="#000"/><rect x="421" y="490" width="3" height="1" fill="#000"/><rect x="427" y="490" width="3" height="1" fill="#000"/><rect x="433" y="490" width="3" height="1" fill="#000"/><rect x="439" y="490" width="3" height="1" fill="#000"/><rect x="445" y="490" width="3" height="1" fill="#000"/><rect x="451" y="490" width="3" height="1" fill="#000"/><rect x="457" y="490" width="3" height="1" fill="#000"/><rect x="463" y="490" width="3" height="1" fill="#000"/><rect x="469" y="490" width="3" height="1" fill="#000"/><rect x="475" y="490" width="3" height="1" fill="#000"/><rect x="481" y="490" width="3" height="1" fill="#000"/><rect x="487" y="490" width="3" height="1" fill="#000"/><rect x="493" y="490" width="3" height="1" fill="#000"/><rect x="499" y="490" width="3" height="1" fill="#000"/><rect x="505" y="490" width="3" height="1" fill="#000"/><rect x="511" y="490" width="3" height="1" fill="#000"/><rect x="517" y="490" width="3" height="1" fill="#000"/><rect x="523" y="490" width="3" height="1" fill="#000"/><rect x="529" y="490" width="3" height="1" fill="#000"/><rect x="535" y="490" width="3" height="1" fill="#000"/><rect x="541" y="490" width="3" height="1" fill="#000"/><rect x="547" y="490" width="3" height="1" fill="#000"/><rect x="553" y="490" width="3" height="1" fill="#000"/><rect x="559" y="490" width="3" height="1" fill="#000"/><rect x="565" y="490" width="3" height="1" fill="#000"/><rect x="571" y="490" width="3" height="1" fill="#000"/><rect x="577" y="490" width="3" height="1" fill="#000"/><rect x="583" y="490" width="3" height="1" fill="#000"/><rect x="589" y="490" width="3" height="1" fill="#000"/><rect x="595" y="490" width="3" height="1" fill="#000"/><rect x="601" y="490" width="3" height="1" fill="#000"/><rect x="607" y="490" width="3" height="1" fill="#000"/><rect x="613" y="490" width="3" height="1" fill="#000"/><rect x="619" y="490" width="3" height="1" fill="#000"/><rect x="625" y="490" width="3" height="1" fill="#000"/><rect x="631" y="490" width="3" height="1" fill="#000"/><rect x="637" y="490" width="3" height="1" fill="#000"/><rect x="643" y="490" width="3" height="1" fill="#000"/><rect x="649" y="490" width="3" height="1" fill="#000"/><rect x="655" y="490" width="3" height="1" fill="#000"/><rect x="661" y="490" width="3" height="1" fill="#000"/><rect x="667" y="490" width="3" height="1" fill="#000"/><rect x="673" y="490" width="3" height="1" fill="#000"/><rect x="679" y="490" width="3" height="1" fill="#000"/><rect x="685" y="490" width="3" height="1" fill="#000"/><rect x="691" y="490" width="3" height="1" fill="#000"/><rect x="697" y="490" width="3" height="1" fill="#000"/><rect x="703" y="490" width="3" height="1" fill="#000"/><rect x="709" y="490" width="3" height="1" fill="#000"/><rect x="715" y="490" width="3" height="1" fill="#000"/><rect x="721" y="490" width="3" height="1" fill="#000"/><rect x="727" y="490" width="3" height="1" fill="#000"/><rect x="733" y="490" width="3" height="1" fill="#000"/><rect x="739" y="490" width="3" height="1" fill="#000"/><rect x="745" y="490" width="3" height="1" fill="#000"/><rect x="751" y="490" width="3" height="1" fill="#000"/><rect x="757" y="490" width="3" height="1" fill="#000"/><rect x="763" y="490" width="3" height="1" fill="#000"/><rect x="769" y="490" width="3" height="1" fill="#000"/><rect x="775" y="490" width="3" height="1" fill="#000"/><rect x="781" y="490" width="3" height="1" fill="#000"/><rect x="787" y="490" width="3" height="1" fill="#000"/><rect x="793" y="490" width="3" height="1" fill="#000"/><rect x="799" y="490" width="3" height="1" fill="#000"/><rect x="805" y="490" width="3" height="1" fill="#000"/><rect x="811" y="490" width="3" height="1" fill="#000"/><rect x="817" y="490" width="3" height="1" fill="#000"/><rect x="823" y="490" width="3" height="1" fill="#000"/><rect x="829" y="490" width="3" height="1" fill="#000"/><rect x="835" y="490" width="3" height="1" fill="#000"/><rect x="841" y="490" width="3" height="1" fill="#000"/><rect x="847" y="490" width="3" height="1" fill="#000"/><rect x="853" y="490" width="3" height="1" fill="#000"/><rect x="859" y="490" width="3" height="1" fill="#000"/><rect x="865" y="490" width="3" height="1" fill="#000"/><rect x="871" y="490" width="3" height="1" fill="#000"/><rect x="877" y="490" width="3" height="1" fill="#000"/><rect x="883" y="490" width="3" height="1" fill="#000"/><rect x="889" y="490" width="3" height="1" fill="#000"/><rect x="895" y="490" width="3" height="1" fill="#000"/><rect x="901" y="490" width="3" height="1" fill="#000"/><rect x="907" y="490" width="3" height="1" fill="#000"/><rect x="913" y="490" width="3" height="1" fill="#000"/><rect x="919" y="490" width="3" height="1" fill="#000"/><rect x="925" y="490" width="3" height="1" fill="#000"/><rect x="931" y="490" width="3" height="1" fill="#000"/><rect x="937" y="490" width="3" height="1" fill="#000"/><rect x="943" y="490" width="3" height="1" fill="#000"/><rect x="949" y="490" width="3" height="1" fill="#000"/><rect x="955" y="490" width="3" height="1" fill="#000"/><rect x="961" y="490" width="3" height="1" fill="#000"/><rect x="967" y="490" width="3" height="1" fill="#000"/><rect x="973" y="490" width="3" height="1" fill="#000"/><rect x="979" y="490" width="3" height="1" fill="#000"/><rect x="985" y="490" width="3" height="1" fill="#000"/><rect x="991" y="490" width="3" height="1" fill="#000"/><rect x="997" y="490" width="3" height="1" fill="#000"/><rect x="1003" y="490" width="3" height="1" fill="#000"/><rect x="1009" y="490" width="3" height="1" fill="#000"/><rect x="1015" y="490" width="3" height="1" fill="#000"/><rect x="1021" y="490" width="3" height="1" fill="#000"/><rect x="1027" y="490" width="3" height="1" fill="#000"/><rect x="1033" y="490" width="3" height="1" fill="#000"/><rect x="1039" y="490" width="3" height="1" fill="#000"/><rect x="1045" y="490" width="3" height="1" fill="#000"/><rect x="1051" y="490" width="3" height="1" fill="#000"/><rect x="1057" y="490" width="3" height="1" fill="#000"/><rect x="1063" y="490" width="3" height="1" fill="#000"/><rect x="1069" y="490" width="3" height="1" fill="#000"/><rect x="1075" y="490" width="3" height="1" fill="#000"/><rect x="1081" y="490" width="3" height="1" fill="#000"/><rect x="1087" y="490" width="3" height="1" fill="#000"/><rect x="1093" y="490" width="3" height="1" fill="#000"/><rect x="1099" y="490" width="3" height="1" fill="#000"/><rect x="1105" y="490" width="3" height="1" fill="#000"/><rect x="1111" y="490" width="3" height="1" fill="#000"/><rect x="1117" y="490" width="3" height="1" fill="#000"/><rect x="1123" y="490" width="3" height="1" fill="#000"/><rect x="1129" y="490" width="3" height="1" fill="#000"/><rect x="1135" y="490" width="3" height="1" fill="#000"/><rect x="1141" y="490" width="3" height="1" fill="#000"/><rect x="1147" y="490" width="3" height="1" fill="#000"/><rect x="1153" y="490" width="3" height="1" fill="#000"/><rect x="1159" y="490" width="3" height="1" fill="#000"/><rect x="1165" y="490" width="3" height="1" fill="#000"/></g><polyline points="6,476.8 14,476.8 22,474.9 30,474.0 38,478.4 46,479.2 54,480.4 62,481.4 70,482.8 78,481.4 86,480.8 94,483.4 102,484.0 110,484.2 118,484.8 126,483.4 134,480.8 142,483.8 150,487.8 158,488.3 166,490.7 174,491.0 182,491.0 190,491.0 198,491.7 206,492.3 214,492.7 222,489.7 230,482.8 238,485.8 246,486.8 254,488.3 262,489.7 270,489.7 278,490.3 286,490.7 294,489.7 302,488.7 310,486.4 318,484.8 326,485.8 334,483.8 342,483.8 350,482.8 358,481.4 366,480.8 374,480.8 382,480.8 390,479.8 398,478.8 406,478.2 414,478.2 422,479.2 430,475.8 438,478.4 446,479.2 454,479.2 462,479.2 470,479.8 478,482.8 486,485.2 494,485.8 502,487.8 510,488.7 518,484.4 526,483.8 534,485.4 542,485.8 550,484.8 558,484.8 566,486.4 574,486.8 582,486.4 590,485.2 598,485.8 606,486.4 614,486.8 622,486.8 630,487.8 638,489.1 646,485.8 654,487.8 662,487.8 670,485.2 678,484.8 686,484.8 694,487.8 702,487.8 710,487.8 718,487.8 726,485 734,484 742,483.2 750,480.7 758,480.5 766,478.8 774,479.6 782,479.6 790,478.5 798,477.5 806,476.8 814,475.7 822,475.7 830,477.5 838,476.8 846,482.8 854,480.7 862,480.7 870,481.7 878,481.7 886,480 894,479.6 902,477.5 910,475.7 918,475.7" fill="none" stroke="#1e90ff" stroke-width="2" shape-rendering="crispEdges"/><g shape-rendering="crispEdges"><rect x="6" y="137" width="1162" height="2" fill="#ff0000"/><rect x="5" y="135" width="6" height="6" fill="#ff0000"/><rect x="7" y="137" width="2" height="2" fill="#ffffff"/><rect x="1162" y="135" width="6" height="6" fill="#ff0000"/><rect x="1164" y="137" width="2" height="2" fill="#ffffff"/><rect x="6" y="210" width="1162" height="2" fill="#ff0000"/><rect x="5" y="208" width="6" height="6" fill="#ff0000"/><rect x="7" y="210" width="2" height="2" fill="#ffffff"/><rect x="1162" y="208" width="6" height="6" fill="#ff0000"/><rect x="1164" y="210" width="2" height="2" fill="#ffffff"/><rect x="6" y="274" width="1162" height="2" fill="#00ff00"/><rect x="5" y="272" width="6" height="6" fill="#00ff00"/><rect x="7" y="274" width="2" height="2" fill="#ffffff"/><rect x="1162" y="272" width="6" height="6" fill="#00ff00"/><rect x="1164" y="274" width="2" height="2" fill="#ffffff"/><rect x="6" y="341" width="1162" height="2" fill="#0000ff"/><rect x="5" y="339" width="6" height="6" fill="#0000ff"/><rect x="7" y="341" width="2" height="2" fill="#ffffff"/><rect x="1162" y="339" width="6" height="6" fill="#0000ff"/><rect x="1164" y="341" width="2" height="2" fill="#ffffff"/></g><polygon points="941.2,255.4 967.3,212.0 964.6,209.6 979.8,201.2 976.6,218.9 974.3,217.1 942.4,256.7 941.2,256.6" fill="#ff3333"/><g shape-rendering="crispEdges"><rect x="5" y="22" width="1164" height="1" fill="#000"/><rect x="5" y="414" width="1164" height="1" fill="#000"/><rect x="5" y="22" width="1" height="393" fill="#000"/><rect x="1168" y="22" width="1" height="393" fill="#000"/><rect x="5" y="416" width="1164" height="1" fill="#000"/><rect x="5" y="457" width="1164" height="1" fill="#000"/><rect x="5" y="416" width="1" height="42" fill="#000"/><rect x="1168" y="416" width="1" height="42" fill="#000"/><rect x="5" y="459" width="1164" height="1" fill="#000"/><rect x="5" y="503" width="1164" height="1" fill="#000"/><rect x="5" y="459" width="1" height="45" fill="#000"/><rect x="1168" y="459" width="1" height="45" fill="#000"/></g><polygon points="929.5,22.5 939.5,22.5 934.5,28" fill="#000" shape-rendering="crispEdges"/><polygon points="9,29 16,29 12.5,33" fill="#000"/><g shape-rendering="crispEdges"><rect x="1169" y="48" width="2" height="1" fill="#000"/><rect x="1169" y="81" width="2" height="1" fill="#000"/><rect x="1169" y="114" width="2" height="1" fill="#000"/><rect x="1169" y="147" width="2" height="1" fill="#000"/><rect x="1169" y="180" width="2" height="1" fill="#000"/><rect x="1169" y="213" width="2" height="1" fill="#000"/><rect x="1169" y="246" width="2" height="1" fill="#000"/><rect x="1169" y="279" width="2" height="1" fill="#000"/><rect x="1169" y="312" width="2" height="1" fill="#000"/><rect x="1169" y="345" width="2" height="1" fill="#000"/><rect x="1169" y="378" width="2" height="1" fill="#000"/><rect x="1169" y="411" width="2" height="1" fill="#000"/><rect x="1169" y="418" width="2" height="1" fill="#000"/><rect x="1169" y="433" width="2" height="1" fill="#000"/><rect x="1169" y="456" width="2" height="1" fill="#000"/><rect x="1169" y="461" width="2" height="1" fill="#000"/><rect x="1169" y="502" width="2" height="1" fill="#000"/><rect x="6" y="504" width="1" height="3" fill="#000"/><rect x="70" y="504" width="1" height="3" fill="#000"/><rect x="134" y="504" width="1" height="3" fill="#000"/><rect x="198" y="504" width="1" height="3" fill="#000"/><rect x="262" y="504" width="1" height="3" fill="#000"/><rect x="326" y="504" width="1" height="3" fill="#000"/><rect x="390" y="504" width="1" height="3" fill="#000"/><rect x="454" y="504" width="1" height="3" fill="#000"/><rect x="518" y="504" width="1" height="3" fill="#000"/><rect x="582" y="504" width="1" height="3" fill="#000"/><rect x="646" y="504" width="1" height="3" fill="#000"/><rect x="710" y="504" width="1" height="3" fill="#000"/><rect x="774" y="504" width="1" height="3" fill="#000"/><rect x="838" y="504" width="1" height="3" fill="#000"/><rect x="902" y="504" width="1" height="3" fill="#000"/></g><g font-family='"Liberation Sans", sans-serif'><text x="1174" y="52" font-size="10" fill="#000" stroke="#000" stroke-width="0.12" textLength="32.89" lengthAdjust="spacingAndGlyphs">0.76435</text><text x="1174" y="85" font-size="10" fill="#000" stroke="#000" stroke-width="0.12" textLength="32.89" lengthAdjust="spacingAndGlyphs">0.75535</text><text x="1174" y="118" font-size="10" fill="#000" stroke="#000" stroke-width="0.12" textLength="32.89" lengthAdjust="spacingAndGlyphs">0.74660</text><text x="1174" y="151" font-size="10" fill="#000" stroke="#000" stroke-width="0.12" textLength="32.89" lengthAdjust="spacingAndGlyphs">0.73760</text><text x="1174" y="184" font-size="10" fill="#000" stroke="#000" stroke-width="0.12" textLength="32.89" lengthAdjust="spacingAndGlyphs">0.72860</text><text x="1174" y="217" font-size="10" fill="#000" stroke="#000" stroke-width="0.12" textLength="32.89" lengthAdjust="spacingAndGlyphs">0.71985</text><text x="1174" y="250" font-size="10" fill="#000" stroke="#000" stroke-width="0.12" textLength="32.89" lengthAdjust="spacingAndGlyphs">0.71085</text><text x="1174" y="283" font-size="10" fill="#000" stroke="#000" stroke-width="0.12" textLength="32.89" lengthAdjust="spacingAndGlyphs">0.70185</text><text x="1174" y="316" font-size="10" fill="#000" stroke="#000" stroke-width="0.12" textLength="32.89" lengthAdjust="spacingAndGlyphs">0.69310</text><text x="1174" y="349" font-size="10" fill="#000" stroke="#000" stroke-width="0.12" textLength="32.89" lengthAdjust="spacingAndGlyphs">0.68410</text><text x="1174" y="382" font-size="10" fill="#000" stroke="#000" stroke-width="0.12" textLength="32.89" lengthAdjust="spacingAndGlyphs">0.67510</text><text x="1174" y="415" font-size="10" fill="#000" stroke="#000" stroke-width="0.12" textLength="32.89" lengthAdjust="spacingAndGlyphs">0.66635</text><rect x="1170" y="132" width="39" height="11" fill="#ff0000"/><text x="1174" y="141" font-size="10" fill="#fff" stroke="#fff" stroke-width="0.12" textLength="32.89" lengthAdjust="spacingAndGlyphs">0.74018</text><rect x="1170" y="205" width="39" height="11" fill="#ff0000"/><text x="1174" y="214" font-size="10" fill="#fff" stroke="#fff" stroke-width="0.12" textLength="32.89" lengthAdjust="spacingAndGlyphs">0.72029</text><rect x="1170" y="234" width="39" height="11" fill="#000000"/><text x="1174" y="243" font-size="10" fill="#fff" stroke="#fff" stroke-width="0.12" textLength="32.89" lengthAdjust="spacingAndGlyphs">0.71268</text><rect x="1170" y="269" width="39" height="11" fill="#00ff00"/><text x="1174" y="278" font-size="10" fill="#fff" stroke="#fff" stroke-width="0.12" textLength="32.89" lengthAdjust="spacingAndGlyphs">0.70314</text><rect x="1170" y="336" width="39" height="11" fill="#0000ff"/><text x="1174" y="345" font-size="10" fill="#fff" stroke="#fff" stroke-width="0.12" textLength="32.89" lengthAdjust="spacingAndGlyphs">0.68499</text><text x="1172" y="427" font-size="10" fill="#000" stroke="#000" stroke-width="0.12" textLength="32.89" lengthAdjust="spacingAndGlyphs">0.00778</text><text x="1172" y="437" font-size="10" fill="#000" stroke="#000" stroke-width="0.12" textLength="17.71" lengthAdjust="spacingAndGlyphs">0.00</text><text x="1172" y="454" font-size="10" fill="#000" stroke="#000" stroke-width="0.12" textLength="35.92" lengthAdjust="spacingAndGlyphs">-0.01210</text><text x="1172" y="470" font-size="10" fill="#000" stroke="#000" stroke-width="0.12" textLength="15.18" lengthAdjust="spacingAndGlyphs">100</text><text x="1171" y="477" font-size="10" fill="#000" stroke="#000" stroke-width="0.12" textLength="10.12" lengthAdjust="spacingAndGlyphs">70</text><text x="1171" y="494" font-size="10" fill="#000" stroke="#000" stroke-width="0.12" textLength="10.12" lengthAdjust="spacingAndGlyphs">30</text><text x="1172" y="500" font-size="10" fill="#000" stroke="#000" stroke-width="0.12" textLength="5.06" lengthAdjust="spacingAndGlyphs">0</text><text x="21.22" y="34" font-size="9.9" fill="#000" stroke="#000" stroke-width="0.12" textLength="69.38" lengthAdjust="spacingAndGlyphs">AUDUSD-,Daily</text><text x="95.18" y="34" font-size="9.9" fill="#000" stroke="#000" stroke-width="0.12" textLength="142.75" lengthAdjust="spacingAndGlyphs">0.71029 0.71273 0.70838 0.71268</text><text x="9.40" y="429" font-size="9.9" fill="#000" stroke="#000" stroke-width="0.12" textLength="148.42" lengthAdjust="spacingAndGlyphs">MACD(12,26,9) 0.004407 0.002351</text><text x="8.84" y="472" font-size="9.9" fill="#000" stroke="#000" stroke-width="0.12" textLength="69.31" lengthAdjust="spacingAndGlyphs">RSI(14) 65.3582</text><text x="4.46" y="516" font-size="9.9" fill="#000" stroke="#000" stroke-width="0.12" textLength="47.13" lengthAdjust="spacingAndGlyphs">1 Apr 2022</text><text x="68.40" y="516" font-size="9.9" fill="#000" stroke="#000" stroke-width="0.12" textLength="51.81" lengthAdjust="spacingAndGlyphs">11 Apr 2022</text><text x="132.61" y="516" font-size="9.9" fill="#000" stroke="#000" stroke-width="0.12" textLength="52.20" lengthAdjust="spacingAndGlyphs">20 Apr 2022</text><text x="196.07" y="516" font-size="9.9" fill="#000" stroke="#000" stroke-width="0.12" textLength="52.21" lengthAdjust="spacingAndGlyphs">29 Apr 2022</text><text x="260.71" y="516" font-size="9.9" fill="#000" stroke="#000" stroke-width="0.12" textLength="50.54" lengthAdjust="spacingAndGlyphs">9 May 2022</text><text x="324.68" y="516" font-size="9.9" fill="#000" stroke="#000" stroke-width="0.12" textLength="55.78" lengthAdjust="spacingAndGlyphs">18 May 2022</text><text x="388.73" y="516" font-size="9.9" fill="#000" stroke="#000" stroke-width="0.12" textLength="55.91" lengthAdjust="spacingAndGlyphs">27 May 2022</text><text x="452.07" y="516" font-size="9.9" fill="#000" stroke="#000" stroke-width="0.12" textLength="46.82" lengthAdjust="spacingAndGlyphs">6 Jun 2022</text><text x="516.38" y="516" font-size="9.9" fill="#000" stroke="#000" stroke-width="0.12" textLength="51.77" lengthAdjust="spacingAndGlyphs">15 Jun 2022</text><text x="580.19" y="516" font-size="9.9" fill="#000" stroke="#000" stroke-width="0.12" textLength="51.68" lengthAdjust="spacingAndGlyphs">24 Jun 2022</text><text x="643.88" y="516" font-size="9.9" fill="#000" stroke="#000" stroke-width="0.12" textLength="44.10" lengthAdjust="spacingAndGlyphs">4 Jul 2022</text><text x="708.53" y="516" font-size="9.9" fill="#000" stroke="#000" stroke-width="0.12" textLength="48.39" lengthAdjust="spacingAndGlyphs">13 Jul 2022</text><text x="772.69" y="516" font-size="9.9" fill="#000" stroke="#000" stroke-width="0.12" textLength="47.73" lengthAdjust="spacingAndGlyphs">22 Jul 2022</text><text x="836.51" y="516" font-size="9.9" fill="#000" stroke="#000" stroke-width="0.12" textLength="48.74" lengthAdjust="spacingAndGlyphs">1 Aug 2022</text><text x="900.51" y="516" font-size="9.9" fill="#000" stroke="#000" stroke-width="0.12" textLength="54.12" lengthAdjust="spacingAndGlyphs">10 Aug 2022</text><text x="17.11" y="10" font-size="10" fill="#2a2a2a" stroke="#2a2a2a" stroke-width="0.12" textLength="18.37" lengthAdjust="spacingAndGlyphs">M30</text><text x="47.96" y="10" font-size="10" fill="#2a2a2a" stroke="#2a2a2a" stroke-width="0.12" textLength="12.72" lengthAdjust="spacingAndGlyphs">H1</text><text x="74.43" y="10" font-size="10" fill="#2a2a2a" stroke="#2a2a2a" stroke-width="0.12" textLength="13.88" lengthAdjust="spacingAndGlyphs">H4</text><text x="104.04" y="10" font-size="10" fill="#2a2a2a" stroke="#2a2a2a" stroke-width="0.12" textLength="12.58" lengthAdjust="spacingAndGlyphs">D1</text><text x="132.00" y="10" font-size="10" fill="#2a2a2a" stroke="#2a2a2a" stroke-width="0.12" textLength="14.02" lengthAdjust="spacingAndGlyphs">W1</text><text x="158.17" y="10" font-size="10" fill="#2a2a2a" stroke="#2a2a2a" stroke-width="0.12" textLength="16.18" lengthAdjust="spacingAndGlyphs">MN</text><text x="-0.80" y="10" font-size="10" fill="#2a2a2a" stroke="#2a2a2a" stroke-width="0.12" textLength="9.00" lengthAdjust="spacingAndGlyphs">15</text></g><rect x="0" y="524" width="1209" height="1" fill="#e3e3e3"/><rect x="0" y="525" width="1209" height="1" fill="#ffffff"/><rect x="0" y="526" width="1209" height="1" fill="#000"/><rect x="0" y="527" width="1209" height="19" fill="#f0f0f0"/><rect x="0" y="546" width="1209" height="1" fill="#ffffff"/><rect x="0" y="547" width="1209" height="1" fill="#f0f0f0"/><rect x="0" y="527" width="1" height="19" fill="#ffffff"/><rect x="1" y="527" width="1" height="18" fill="#c8c8c8"/><rect x="2" y="527" width="1" height="18" fill="#6e6e6e"/><rect x="0" y="545" width="3" height="1" fill="#6e6e6e"/><rect x="215" y="526" width="108" height="19" fill="#000"/><rect x="216" y="526" width="106" height="18" fill="#ffffff"/><g shape-rendering="crispEdges"><rect x="107" y="529" width="1" height="14" fill="#6d6d6d"/><rect x="431" y="529" width="1" height="14" fill="#6d6d6d"/><rect x="539" y="529" width="1" height="14" fill="#6d6d6d"/><rect x="651" y="529" width="1" height="14" fill="#6d6d6d"/><rect x="759" y="529" width="1" height="14" fill="#6d6d6d"/><rect x="839" y="529" width="1" height="14" fill="#6d6d6d"/><rect x="931" y="529" width="1" height="14" fill="#6d6d6d"/><rect x="1007" y="529" width="1" height="14" fill="#6d6d6d"/><rect x="1099" y="529" width="1" height="14" fill="#6d6d6d"/></g><g font-family='"Liberation Sans", sans-serif'><text x="17.64" y="541" font-size="12.4" fill="#6d6d6d" textLength="78.11" lengthAdjust="spacingAndGlyphs">USDX,Weekly</text><text x="117.41" y="541" font-size="12.4" fill="#6d6d6d" textLength="85.28" lengthAdjust="spacingAndGlyphs">EURUSD-,Daily</text><text x="225.60" y="541" font-size="12.4" fill="#000" textLength="85.75" lengthAdjust="spacingAndGlyphs">AUDUSD-,Daily</text><text x="333.98" y="541" font-size="12.4" fill="#6d6d6d" textLength="85.56" lengthAdjust="spacingAndGlyphs">USDCHF-,Daily</text><text x="441.66" y="541" font-size="12.4" fill="#6d6d6d" textLength="86.89" lengthAdjust="spacingAndGlyphs">USDCAD-,Daily</text><text x="549.79" y="541" font-size="12.4" fill="#6d6d6d" textLength="89.27" lengthAdjust="spacingAndGlyphs">USDCNH-,Daily</text><text x="661.00" y="541" font-size="12.4" fill="#6d6d6d" textLength="86.76" lengthAdjust="spacingAndGlyphs">XAUUSD-,Daily</text><text x="769.43" y="541" font-size="12.4" fill="#6d6d6d" textLength="57.54" lengthAdjust="spacingAndGlyphs">UKOil-,H4</text><text x="849.60" y="541" font-size="12.4" fill="#6d6d6d" textLength="69.13" lengthAdjust="spacingAndGlyphs">USOil-,Daily</text><text x="940.75" y="541" font-size="12.4" fill="#6d6d6d" textLength="55.16" lengthAdjust="spacingAndGlyphs">HK50-,H1</text><text x="1015.86" y="541" font-size="12.4" fill="#6d6d6d" textLength="71.81" lengthAdjust="spacingAndGlyphs">EURCHF-,H1</text><text x="1110.54" y="541" font-size="12.4" fill="#6d6d6d" textLength="56.56" lengthAdjust="spacingAndGlyphs">USOil-,H4</text></g><polygon points="1187.2,531.8 1187.2,538.4 1183.8,535.1" fill="#a0a0a0"/><polygon points="1202.9,531.8 1202.9,538.4 1206.5,535.1" fill="#000"/></svg></body></html>
